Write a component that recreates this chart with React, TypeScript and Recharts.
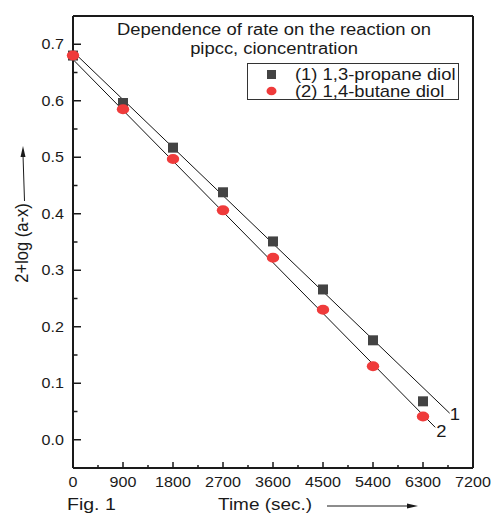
import React from 'react';
import { ComposedChart, Scatter, Line, XAxis, YAxis, Legend, ReferenceLine } from 'recharts';

const times = [0, 900, 1800, 2700, 3600, 4500, 5400, 6300];
const propaneDiol = [0.68, 0.596, 0.517, 0.438, 0.351, 0.266, 0.176, 0.068];
const butaneDiol = [0.68, 0.585, 0.497, 0.406, 0.322, 0.23, 0.13, 0.041];

// least-squares lines as drawn in the figure (start / end)
const fitTimes1 = [0, 6780];
const fitValues1 = [0.687, 0.047];
const fitTimes2 = [0, 6520];
const fitValues2 = [0.673, 0.022];
const fitLabels = ['1', '2'];

const seriesNames = ['(1) 1,3-propane diol', '(2) 1,4-butane diol'];
const titleLines = ['Dependence of rate on the reaction on', 'pipcc, cioncentration'];

const xTicks = [0, 450, 900, 1350, 1800, 2250, 2700, 3150, 3600, 4050, 4500, 4950, 5400, 5850, 6300, 6750, 7200];
const yTicks = [0, 0.05, 0.1, 0.15, 0.2, 0.25, 0.3, 0.35, 0.4, 0.45, 0.5, 0.55, 0.6, 0.65, 0.7];

const propaneData = times.map((t, i) => ({ t, v: propaneDiol[i] }));
const butaneData = times.map((t, i) => ({ t, v: butaneDiol[i] }));
const fit1 = fitTimes1.map((t, i) => ({ t, v: fitValues1[i] }));
const fit2 = fitTimes2.map((t, i) => ({ t, v: fitValues2[i] }));

const FONT = '"Liberation Sans", Arial, Helvetica, sans-serif';
const SX = 1.15;
const INK = '#1a1a1a';
const GREY = '#434343';
const RED = '#ef3b3b';

const XTick = (props: any) => {
  const { x, y, payload } = props;
  const major = payload.value % 900 === 0;
  return (
    <g>
      <line x1={x} x2={x} y1={y} y2={y - (major ? 6 : 3)} stroke={INK} strokeWidth={1.5} />
      {major && (
        <text transform={`translate(${x},${y + 19}) scale(${SX},1)`} textAnchor="middle" fontSize={14} fontFamily={FONT} fill={INK}>
          {payload.value}
        </text>
      )}
    </g>
  );
};

const YTick = (props: any) => {
  const { x, y, payload } = props;
  const major = Math.round(payload.value * 100) % 10 === 0;
  return (
    <g>
      <line x1={x} x2={x + (major ? 8 : 4.5)} y1={y} y2={y} stroke={INK} strokeWidth={1.5} />
      {major && (
        <text transform={`translate(${x - 9},${y + 5}) scale(${SX},1)`} textAnchor="end" fontSize={14} fontFamily={FONT} fill={INK}>
          {payload.value.toFixed(1)}
        </text>
      )}
    </g>
  );
};

const Square = (props: any) => {
  const { cx, cy } = props;
  return <rect x={cx - 5} y={cy - 5} width={10} height={10} fill={GREY} />;
};

const Dot = (props: any) => {
  const { cx, cy } = props;
  return <ellipse cx={cx} cy={cy} rx={6.2} ry={5} fill={RED} />;
};

const endLabel = (text: string, dx: number, dy: number) => (props: any) => {
  const { x, y, index } = props;
  if (index !== 1) return <g />;
  return (
    <text transform={`translate(${x + dx},${y + dy}) scale(${SX},1)`} fontSize={16} fontFamily={FONT} fill={INK}>
      {text}
    </text>
  );
};

const renderXLabel = () => (
  <g fontFamily={FONT} fill={INK}>
    <text transform={`translate(67,510) scale(${SX},1)`} fontSize={17}>Fig. 1</text>
    <text transform={`translate(218,510) scale(${SX},1)`} fontSize={16.5}>Time (sec.)</text>
    <line x1={327} x2={410} y1={506} y2={506} stroke={INK} strokeWidth={1} />
    <polygon points="418,506 407,503.5 407,508.5" fill={INK} />
  </g>
);

const renderYLabel = () => (
  <g fontFamily={FONT} fill={INK}>
    <text transform={`translate(28,243) scale(${SX},1) rotate(-90)`} textAnchor="middle" fontSize={16.5}>
      2+log (a-x)
    </text>
    <line x1={24.5} x2={23} y1={201} y2={155} stroke={INK} strokeWidth={1} />
    <polygon points="23,146 20.5,157 25.5,157" fill={INK} />
  </g>
);

const renderLegend = () => (
  <svg width={212} height={37} style={{ display: 'block' }}>
    <rect x={0.5} y={0.5} width={211} height={36} fill="#fff" stroke="#333" strokeWidth={1} />
    <rect x={20} y={7} width={9} height={9} fill={GREY} />
    <ellipse cx={24.5} cy={28} rx={5} ry={4.3} fill={RED} />
    {seriesNames.map((n, i) => (
      <text key={n} transform={`translate(48,${17 + i * 17}) scale(${SX},1)`} fontSize={16} fontFamily={FONT} fill={INK}>
        {n}
      </text>
    ))}
  </svg>
);

export default function App() {
  return (
    <div style={{ position: 'absolute', left: 0, top: 0, width: 492, height: 515, background: '#fff' }}>
      <ComposedChart width={492} height={515} margin={{ top: 16, right: 19, bottom: 0, left: 0 }}>
        <XAxis
          dataKey="t"
          type="number"
          domain={[0, 7200]}
          ticks={xTicks}
          interval={0}
          height={47}
          tickSize={0}
          tickMargin={0}
          tickLine={false}
          tick={<XTick />}
          axisLine={{ stroke: INK, strokeWidth: 2 }}
          label={renderXLabel}
        />
        <YAxis
          type="number"
          domain={[-0.05, 0.75]}
          allowDataOverflow
          ticks={yTicks}
          interval={0}
          width={73}
          tickSize={0}
          tickMargin={0}
          tickLine={false}
          tick={<YTick />}
          axisLine={{ stroke: INK, strokeWidth: 2 }}
          label={renderYLabel}
        />
        <ReferenceLine y={0.75} stroke={INK} strokeWidth={2} />
        <ReferenceLine x={7200} stroke={INK} strokeWidth={2} />
        <Line data={fit1} dataKey="v" stroke="#111" strokeWidth={1} dot={false} isAnimationActive={false} legendType="none" label={endLabel(fitLabels[0], 0, 7)} />
        <Line data={fit2} dataKey="v" stroke="#111" strokeWidth={1} dot={false} isAnimationActive={false} legendType="none" label={endLabel(fitLabels[1], 1, 10)} />
        <Scatter data={propaneData} dataKey="v" name={seriesNames[0]} shape={<Square />} isAnimationActive={false} />
        <Scatter data={butaneData} dataKey="v" name={seriesNames[1]} shape={<Dot />} isAnimationActive={false} />
        <Legend
          layout="horizontal"
          verticalAlign="middle"
          align="center"
          content={renderLegend}
          wrapperStyle={{ left: 247, top: 63, width: 212, height: 37 }}
        />
      </ComposedChart>
      {titleLines.map((line, i) => (
        <div
          key={line}
          style={{
            position: 'absolute',
            left: 274,
            top: 20 + i * 19,
            transform: `translateX(-50%) scaleX(${SX})`,
            whiteSpace: 'nowrap',
            fontFamily: FONT,
            fontSize: 16,
            lineHeight: '19px',
            color: INK,
          }}
        >
          {line}
        </div>
      ))}
    </div>
  );
}
